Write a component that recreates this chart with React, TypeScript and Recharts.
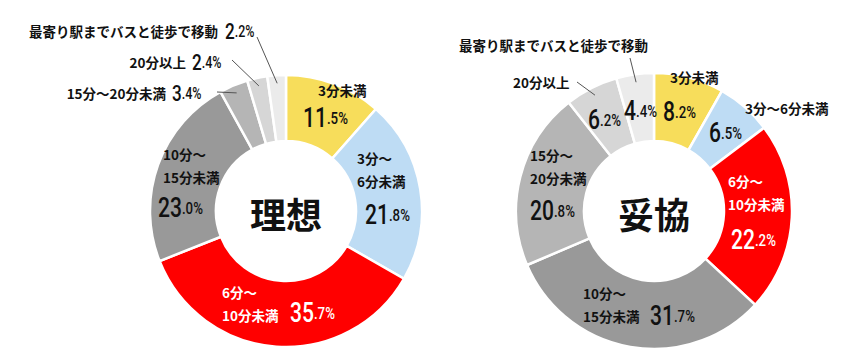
import React from 'react';
import { PieChart, Pie, Cell } from 'recharts';

const categories = [
  '3分未満',
  '3分～6分未満',
  '6分～10分未満',
  '10分～15分未満',
  '15分～20分未満',
  '20分以上',
  '最寄り駅までバスと徒歩で移動',
];
const idealValues = [11.5, 21.8, 35.7, 23.0, 3.4, 2.4, 2.2];
const compromiseValues = [8.2, 6.5, 22.2, 31.7, 20.8, 6.2, 4.4];
const chartTitles = ['理想', '妥協'];

const SLICE_COLORS = ['#f7dd5b', '#bedcf4', '#ff0000', '#999999', '#b5b5b5', '#d6d6d6', '#ebebeb'];
const JP_FONT = "'Noto Sans CJK JP', sans-serif";
const NUM_FONT = 'Roboto, sans-serif';
const LINE_GAP = 23;

type Spot = { dx: number; dy: number };
type LabelSpec = {
  name: Spot;
  value: Spot;
  split?: boolean;
  nameEnd?: boolean;
  white?: boolean;
  small?: boolean;
  leader?: Spot;
};

// label placement, offsets from the donut centre
const idealLabels: LabelSpec[] = [
  { name: { dx: 32, dy: -121 }, value: { dx: 17, dy: -93 } },
  { name: { dx: 71, dy: -53 }, value: { dx: 79, dy: 4 }, split: true },
  { name: { dx: -64, dy: 81 }, value: { dx: 4, dy: 102 }, split: true, white: true },
  { name: { dx: -123, dy: -57 }, value: { dx: -128, dy: -3 }, split: true },
  { name: { dx: -120, dy: -118 }, value: { dx: -114, dy: -118 }, nameEnd: true, small: true, leader: { dx: -69, dy: -119 } },
  { name: { dx: -100, dy: -149 }, value: { dx: -94, dy: -149 }, nameEnd: true, small: true, leader: { dx: -54, dy: -151 } },
  { name: { dx: -68, dy: -180 }, value: { dx: -61, dy: -180 }, nameEnd: true, small: true, leader: { dx: -29, dy: -174 } },
];

const compromiseLabels: LabelSpec[] = [
  { name: { dx: 16, dy: -134 }, value: { dx: 9, dy: -99 } },
  { name: { dx: 91, dy: -103 }, value: { dx: 55, dy: -78 } },
  { name: { dx: 74, dy: -30 }, value: { dx: 77, dy: 29 }, split: true, white: true },
  { name: { dx: -71, dy: 82 }, value: { dx: -4, dy: 105 }, split: true },
  { name: { dx: -124, dy: -56 }, value: { dx: -124, dy: 0 }, split: true },
  { name: { dx: -141, dy: -129 }, value: { dx: -66, dy: -91 }, leader: { dx: -77, dy: -129 } },
  { name: { dx: -195, dy: -166 }, value: { dx: -30, dy: -100 }, leader: { dx: -24, dy: -153 } },
];

const RAD = Math.PI / 180;

const makeLabel = (specs: LabelSpec[], title: string) => (props: any) => {
  const { cx, cy, midAngle, outerRadius, index, value } = props;
  const spec = specs[index];
  const name = categories[index];
  const color = spec.white ? '#ffffff' : '#111111';
  const cut = name.indexOf('～') + 1;
  const lines = spec.split ? [name.slice(0, cut), name.slice(cut)] : [name];
  const [intPart, decPart] = Number(value).toFixed(1).split('.');
  const big = spec.small ? 22 : 27;
  const little = spec.small ? 16 : 17;
  let leader = null;
  if (spec.leader) {
    const r = outerRadius - 8;
    const ex = cx + Math.cos(-midAngle * RAD) * r;
    const ey = cy + Math.sin(-midAngle * RAD) * r;
    leader = <line x1={cx + spec.leader.dx} y1={cy + spec.leader.dy} x2={ex} y2={ey} stroke="#555" strokeWidth={1} />;
  }
  return (
    <g>
      {leader}
      {lines.map((line, i) => (
        <text
          key={i}
          x={cx + spec.name.dx}
          y={cy + spec.name.dy + i * LINE_GAP}
          textAnchor={spec.nameEnd ? 'end' : 'start'}
          dominantBaseline="central"
          fill={color}
          fontFamily={JP_FONT}
          fontWeight={700}
          fontSize={13.5}
        >
          {line}
        </text>
      ))}
      <g transform={`translate(${cx + spec.value.dx},${cy + spec.value.dy}) scale(0.78,1)`}>
        <text x={0} y={0} dominantBaseline="central" fill={color} fontFamily={NUM_FONT} fontWeight={500}>
          <tspan fontSize={big}>{intPart}</tspan>
          <tspan fontSize={little}>{'.' + decPart + '%'}</tspan>
        </text>
      </g>
      {index === 0 && (
        <text
          x={cx}
          y={cy + 2}
          textAnchor="middle"
          dominantBaseline="central"
          fill="#111"
          fontFamily={JP_FONT}
          fontWeight={700}
          fontSize={36}
        >
          {title}
        </text>
      )}
    </g>
  );
};

const idealData = categories.map((name, i) => ({ name, value: idealValues[i] }));
const compromiseData = categories.map((name, i) => ({ name, value: compromiseValues[i] }));

export default function App() {
  return (
    <div style={{ width: 850, height: 360, background: '#fff' }}>
      <style>{'body{margin:0}'}</style>
      <PieChart width={850} height={360}>
        <Pie
          data={idealData}
          dataKey="value"
          cx={281}
          cy={206}
          innerRadius={70}
          outerRadius={136}
          startAngle={90}
          endAngle={-270}
          stroke="#fff"
          strokeWidth={2.5}
          labelLine={false}
          label={makeLabel(idealLabels, chartTitles[0])}
          isAnimationActive={false}
        >
          {idealData.map((d, i) => (
            <Cell key={d.name} fill={SLICE_COLORS[i]} />
          ))}
        </Pie>
        <Pie
          data={compromiseData}
          dataKey="value"
          cx={649}
          cy={206}
          innerRadius={70}
          outerRadius={138}
          startAngle={90}
          endAngle={-270}
          stroke="#fff"
          strokeWidth={2.5}
          labelLine={false}
          label={makeLabel(compromiseLabels, chartTitles[1])}
          isAnimationActive={false}
        >
          {compromiseData.map((d, i) => (
            <Cell key={d.name} fill={SLICE_COLORS[i]} />
          ))}
        </Pie>
      </PieChart>
    </div>
  );
}
